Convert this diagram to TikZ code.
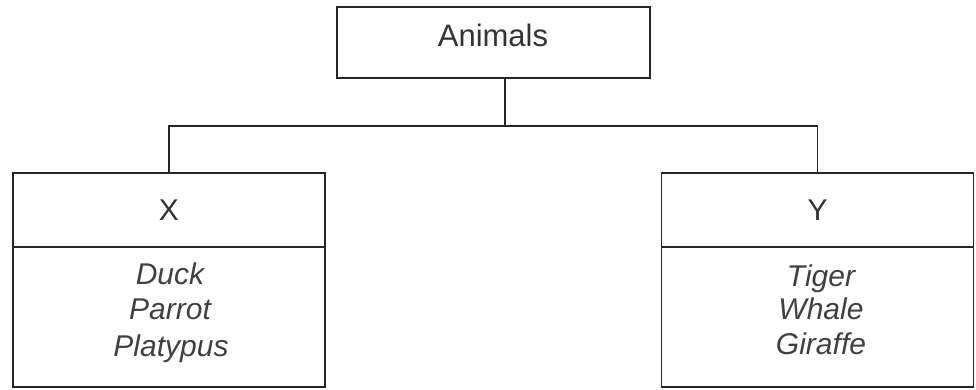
\documentclass[tikz,border=0pt]{standalone}
\usepackage{fontspec}
\setmainfont{Liberation Sans}
\begin{document}
\begin{tikzpicture}[x=1pt,y=1pt,
  line/.style={draw=black!85,line width=1.2pt},
  boxhead/.style={line,rectangle,inner sep=0pt,minimum width=312pt,minimum height=74pt,
    font=\fontsize{30}{36}\selectfont,text=black!80},
  boxbody/.style={line,rectangle,inner sep=0pt,minimum width=312pt,minimum height=140pt},
  item/.style={anchor=base,inner sep=0pt,font=\fontsize{30}{36}\selectfont\itshape,text=black!75},
  titlebox/.style={line,rectangle,inner sep=0pt,minimum width=313pt,minimum height=71pt,
    font=\fontsize{31}{36}\selectfont,text=black!80}]
\useasboundingbox (0,0) rectangle (976,390);
% title
\node[titlebox] (animals) at (493.5,347.5) {};
\node[anchor=base,inner sep=0pt,font=\fontsize{31}{36}\selectfont,text=black!80] (animalslbl) at (493,343) {Animals};
% X box
\node[boxhead] (xhead) at (169,180) {X};
\node[boxbody] (xbody) at (169,73) {};
\node[item] (duck) at (170,105) {Duck};
\node[item] (parrot) at (170,70) {Parrot};
\node[item] (platypus) at (171,33) {Platypus};
% Y box
\node[boxhead] (yhead) at (817.5,180) {Y};
\node[boxbody] (ybody) at (817.5,73) {};
\node[item] (tiger) at (821,103) {Tiger};
\node[item] (whale) at (821,70) {Whale};
\node[item] (giraffe) at (821,35) {Giraffe};
% connectors
\coordinate (bus) at (505,264);
\draw[line] (animals.south -| bus) -- (bus);
\draw[line] (xhead.north) |- (bus) -| (yhead.north);
\end{tikzpicture}
\end{document}
